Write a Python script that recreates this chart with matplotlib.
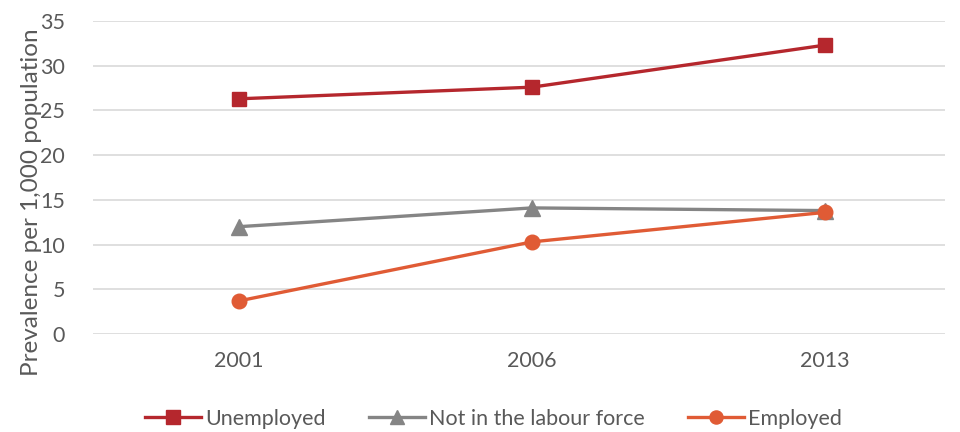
import matplotlib
matplotlib.use("Agg")
import matplotlib.pyplot as plt

years = ["2001", "2006", "2013"]
unemployed = [26.3, 27.6, 32.3]
not_in_labour_force = [12.0, 14.1, 13.8]
employed = [3.7, 10.3, 13.6]

plt.rcParams['font.family'] = ['Lato', 'DejaVu Sans']
text_color = "#595959"

fig = plt.figure(figsize=(9.6, 4.32), dpi=100)
ax = fig.add_axes([93 / 960, 1 - 334 / 432, (945 - 93) / 960, (334 - 21) / 432])

x = range(len(years))
ax.plot(x, unemployed, color="#B5272D", lw=2.4, marker="s", ms=10.5,
        label="Unemployed", zorder=3)
ax.plot(x, not_in_labour_force, color="#858585", lw=2.4, marker="^", ms=11,
        label="Not in the labour force", zorder=3)
ax.plot(x, employed, color="#E05B35", lw=2.4, marker="o", ms=10.5,
        label="Employed", zorder=4)

ax.set_xlim(-0.498, 2.41)
ax.set_ylim(0, 35)
ax.set_yticks(range(0, 36, 5))
ax.set_xticks(list(x))
ax.set_xticklabels(years)

ax.grid(axis="y", color="#D9D9D9", lw=1.2)
ax.set_axisbelow(True)
for side in ["top", "right", "left", "bottom"]:
    ax.spines[side].set_visible(False)
ax.tick_params(length=0, labelsize=15.5, colors=text_color)
ax.tick_params(axis="y", pad=20)
ax.tick_params(axis="x", pad=12)

# label sits a little lower than the plot centre
ax.set_ylabel("Prevalence per 1,000 population", fontsize=17.5,
              color=text_color)
ax.yaxis.set_label_coords(-0.06, 0.42)

ax.legend(loc="center", bbox_to_anchor=(0.47, -0.27), ncol=3, frameon=False,
          fontsize=15.5, labelcolor=text_color, handlelength=2.6,
          handletextpad=0.2, columnspacing=2.0, markerscale=0.9)

fig.savefig("out.png", dpi=100)
